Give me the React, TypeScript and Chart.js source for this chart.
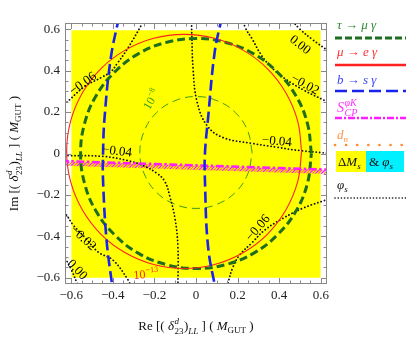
import React, { useEffect, useRef } from "react";
import { Chart, registerables } from "chart.js";

Chart.register(...registerables);

const SERIF = '"Liberation Serif", "Times New Roman", "DejaVu Serif", serif';

// ---- axes ----
const X_MIN = -0.63;
const X_MAX = 0.63;
const Y_MIN = -0.63;
const Y_MAX = 0.63;
const xTickValues = [-0.6, -0.4, -0.2, 0, 0.2, 0.4, 0.6];
const yTickValues = [-0.6, -0.4, -0.2, 0, 0.2, 0.4, 0.6];
const minorTickValues = [
  -0.6, -0.55, -0.5, -0.45, -0.4, -0.35, -0.3, -0.25, -0.2, -0.15, -0.1, -0.05, 0,
  0.05, 0.1, 0.15, 0.2, 0.25, 0.3, 0.35, 0.4, 0.45, 0.5, 0.55, 0.6,
];

// ---- ΔMs & φs allowed region (yellow) ----
const allowedTopEdge = [[-0.6, 0.595], [0.6, 0.595]];
const allowedBottom = -0.6;

// ---- τ → μ γ (thick, current bound) ----
const tauMuGamma = [
  [0.555, 0], [0.536, 0.144], [0.481, 0.278], [0.392, 0.392], [0.278, 0.481], [0.144, 0.536],
  [0, 0.555], [-0.144, 0.536], [-0.278, 0.481], [-0.392, 0.392], [-0.481, 0.278], [-0.536, 0.144],
  [-0.555, 0], [-0.536, -0.144], [-0.481, -0.278], [-0.392, -0.392], [-0.278, -0.481], [-0.144, -0.536],
  [0, -0.555], [0.144, -0.536], [0.278, -0.481], [0.392, -0.392], [0.481, -0.278], [0.536, -0.144],
  [0.555, 0],
];
// ---- τ → μ γ = 10^-8 (thin) ----
const tauMuGamma1e8 = [
  [0.27, 0.005], [0.249, 0.108], [0.191, 0.196], [0.103, 0.254], [0, 0.275], [-0.103, 0.254],
  [-0.191, 0.196], [-0.249, 0.108], [-0.27, 0.005], [-0.249, -0.098], [-0.191, -0.186],
  [-0.103, -0.244], [0, -0.265], [0.103, -0.244], [0.191, -0.186], [0.249, -0.098], [0.27, 0.005],
];
// ---- μ → e γ = 10^-13 ----
const muEGamma = [
  [0.508, 0.01], [0.489, 0.156], [0.432, 0.293], [0.343, 0.41], [0.226, 0.499], [0.089, 0.556],
  [-0.057, 0.575], [-0.203, 0.556], [-0.34, 0.499], [-0.457, 0.41], [-0.546, 0.293], [-0.603, 0.156],
  [-0.622, 0.01], [-0.603, -0.136], [-0.546, -0.273], [-0.457, -0.39], [-0.34, -0.479], [-0.203, -0.536],
  [-0.057, -0.555], [0.089, -0.536], [0.226, -0.479], [0.343, -0.39], [0.432, -0.273], [0.489, -0.136],
  [0.508, 0.01],
];
// ---- b → s γ ----
const bsGammaLeft = [
  [-0.37, 0.66], [-0.41, 0.46], [-0.44, 0.17], [-0.447, 0], [-0.447, -0.13], [-0.43, -0.42], [-0.4, -0.66],
];
const bsGammaRight = [
  [0.125, 0.66], [0.09, 0.49], [0.058, 0.17], [0.043, 0], [0.043, -0.13], [0.058, -0.45], [0.095, -0.66],
];
// ---- S_CP^{φK} ----
const sCP = [[-0.65, -0.0358], [0.65, -0.0783]];
// ---- d_n hatched band ----
const dnUpper = [[-0.65, -0.038], [0.65, -0.08]];
const dnLower = [[-0.65, -0.058], [0.65, -0.1]];
// ---- φs contours ----
const phi000UR = [[0.455, 0.65], [0.5, 0.6], [0.56, 0.55], [0.65, 0.485]];
const phi000LL = [[-0.65, -0.48], [-0.63, -0.505], [-0.6, -0.56], [-0.57, -0.63], [-0.56, -0.65]];
const phi002UR = [
  [0.228, 0.65], [0.236, 0.61], [0.27, 0.553], [0.317, 0.471], [0.37, 0.409], [0.428, 0.361],
  [0.52, 0.305], [0.62, 0.255], [0.65, 0.24],
];
const phi002LL = [
  [-0.65, -0.275], [-0.63, -0.288], [-0.59, -0.346], [-0.53, -0.41], [-0.47, -0.476], [-0.4, -0.514],
  [-0.327, -0.61], [-0.31, -0.65],
];
const phi004UR = [
  [-0.022, 0.65], [-0.02, 0.567], [-0.014, 0.409], [0.005, 0.25], [0.053, 0.135], [0.13, 0.077],
  [0.274, 0.048], [0.39, 0.03], [0.5, 0.014], [0.65, 0.0],
];
const phi004LL = [
  [-0.65, -0.009], [-0.62, -0.01], [-0.447, -0.014], [-0.33, -0.034], [-0.255, -0.058], [-0.188, -0.096],
  [-0.15, -0.135], [-0.125, -0.21], [-0.1, -0.32], [-0.087, -0.45], [-0.087, -0.65],
];
const phi006UL = [
  [-0.65, 0.23], [-0.63, 0.24], [-0.54, 0.32], [-0.45, 0.37], [-0.41, 0.394], [-0.38, 0.433],
  [-0.33, 0.505], [-0.26, 0.625], [-0.25, 0.65],
];
const phi006LR = [
  [0.65, -0.215], [0.62, -0.226], [0.514, -0.264], [0.418, -0.313], [0.33, -0.37], [0.27, -0.43],
  [0.21, -0.49], [0.178, -0.548], [0.154, -0.625], [0.15, -0.65],
];

// ---- contour labels (text, value-space anchor, rotation in degrees) ----
const contourLabels: { text: string; x: number; y: number; rot: number }[] = [
  { text: "0.00", x: 0.5, y: 0.524, rot: 38 },
  { text: "\u22120.02", x: 0.524, y: 0.332, rot: 29 },
  { text: "\u22120.04", x: 0.389, y: 0.058, rot: 5 },
  { text: "\u22120.04", x: -0.38, y: 0.01, rot: 7 },
  { text: "\u22120.06", x: -0.543, y: 0.337, rot: -36 },
  { text: "\u22120.02", x: -0.543, y: -0.409, rot: 43 },
  { text: "0.00", x: -0.572, y: -0.562, rot: 47 },
  { text: "\u22120.06", x: 0.298, y: -0.36, rot: -49 },
];

const C = {
  green: "#1f6e1f",
  greenThin: "#3f9a1a",
  red: "#ff2020",
  blue: "#1a22ee",
  magenta: "#ff1cff",
  orange: "#ff8a2a",
  black: "#111",
  yellow: "#ffff00",
  cyan: "#00f0ff",
  frame: "#888",
};

type Seg = { t?: string; it?: boolean; s?: number; dy?: number; sup?: string; sub?: string; supIt?: boolean; subIt?: boolean };
const fnt = (s: number, it?: boolean) => `${it ? "italic " : ""}${s}px ${SERIF}`;

function segW(ctx: CanvasRenderingContext2D, g: Seg, base: number) {
  if (g.sup !== undefined || g.sub !== undefined) {
    const ss = Math.round(base * 0.7);
    ctx.font = fnt(ss, g.supIt);
    const a = g.sup ? ctx.measureText(g.sup).width : 0;
    ctx.font = fnt(ss, g.subIt);
    const b = g.sub ? ctx.measureText(g.sub).width : 0;
    return Math.max(a, b) + 1;
  }
  ctx.font = fnt(g.s ?? base, g.it);
  return ctx.measureText(g.t || "").width;
}

function drawRich(ctx: CanvasRenderingContext2D, segs: Seg[], x: number, y: number, align: "left" | "center", base = 13) {
  const ws = segs.map((g) => segW(ctx, g, base));
  const total = ws.reduce((a, b) => a + b, 0);
  let cx = align === "center" ? x - total / 2 : x;
  ctx.textAlign = "left";
  ctx.textBaseline = "alphabetic";
  segs.forEach((g, i) => {
    if (g.sup !== undefined || g.sub !== undefined) {
      const ss = Math.round(base * 0.7);
      if (g.sup) {
        ctx.font = fnt(ss, g.supIt);
        ctx.fillText(g.sup, cx + 0.5, y - base * 0.45);
      }
      if (g.sub) {
        ctx.font = fnt(ss, g.subIt);
        ctx.fillText(g.sub, cx + 0.5, y + base * 0.32);
      }
    } else {
      ctx.font = fnt(g.s ?? base, g.it);
      ctx.fillText(g.t || "", cx, y + (g.dy ?? 0));
    }
    cx += ws[i];
  });
}

const axisTitle = (head: string): Seg[] => [
  { t: head + " [( " },
  { t: "\u03b4", it: true },
  { sup: "d", supIt: true, sub: "23" },
  { t: ")" },
  { t: "LL", it: true, s: 9, dy: 4 },
  { t: " ] ( " },
  { t: "M", it: true },
  { t: "GUT", s: 9, dy: 3 },
  { t: " )" },
];

const fmt = (v: number) => {
  if (Math.abs(v) < 1e-9) return "0";
  const s = Math.abs(v).toFixed(1);
  return v < 0 ? "\u2212" + s : s;
};

const pts = (a: number[][]) => a.map(([x, y]) => ({ x, y }));

export default function App() {
  const ref = useRef<HTMLCanvasElement | null>(null);

  useEffect(() => {
    const canvas = ref.current!;
    const ctx0 = canvas.getContext("2d")!;

    const pc = document.createElement("canvas");
    pc.width = 6;
    pc.height = 6;
    const pg = pc.getContext("2d")!;
    pg.lineWidth = 1.3;
    pg.strokeStyle = C.orange;
    pg.beginPath();
    pg.moveTo(-1, 7);
    pg.lineTo(7, -1);
    pg.stroke();
    pg.strokeStyle = C.magenta;
    pg.beginPath();
    pg.moveTo(-4, 7);
    pg.lineTo(4, -1);
    pg.moveTo(2, 7);
    pg.lineTo(10, -1);
    pg.stroke();
    const hatch = ctx0.createPattern(pc, "repeat");

    const line = (data: number[][], color: string, width: number, dash: number[], order: number, extra: any = {}) => ({
      data: pts(data),
      showLine: true,
      borderColor: color,
      borderWidth: width,
      borderDash: dash,
      pointRadius: 0,
      tension: 0.4,
      fill: false,
      order,
      ...extra,
    });
    const dotted = (data: number[][]) =>
      line(data, C.black, 1.8, [0.1, 3.4], 7, { borderCapStyle: "round" });

    const overlay = {
      id: "overlay",
      afterDatasetsDraw(chart: any) {
        const ctx: CanvasRenderingContext2D = chart.ctx;
        const xs = chart.scales.x;
        const ys = chart.scales.y;
        const a = chart.chartArea;
        ctx.save();
        // contour labels
        ctx.fillStyle = "#000";
        ctx.font = fnt(13);
        ctx.textAlign = "center";
        ctx.textBaseline = "middle";
        for (const l of contourLabels) {
          ctx.save();
          ctx.translate(xs.getPixelForValue(l.x), ys.getPixelForValue(l.y));
          ctx.rotate((l.rot * Math.PI) / 180);
          ctx.fillText(l.text, 0, 0);
          ctx.restore();
        }
        // curve labels
        ctx.save();
        ctx.translate(xs.getPixelForValue(-0.215), ys.getPixelForValue(0.262));
        ctx.rotate((-60 * Math.PI) / 180);
        ctx.fillStyle = C.greenThin;
        drawRich(ctx, [{ t: "10" }, { sup: "\u22128" }], 0, 4, "center", 12);
        ctx.restore();
        ctx.save();
        ctx.translate(xs.getPixelForValue(-0.24), ys.getPixelForValue(-0.577));
        ctx.rotate((-4 * Math.PI) / 180);
        ctx.fillStyle = C.red;
        drawRich(ctx, [{ t: "10" }, { sup: "\u221213" }], 0, 5, "center", 12);
        ctx.restore();

        // frame
        ctx.strokeStyle = C.frame;
        ctx.lineWidth = 1;
        ctx.strokeRect(a.left + 0.5, a.top + 0.5, a.right - a.left - 1, a.bottom - a.top - 1);
        ctx.beginPath();
        for (const v of minorTickValues) {
          const major = xTickValues.some((t) => Math.abs(t - v) < 1e-9);
          const len = major ? 6 : 3.5;
          const px = Math.round(xs.getPixelForValue(v)) + 0.5;
          ctx.moveTo(px, a.bottom);
          ctx.lineTo(px, a.bottom - len);
          ctx.moveTo(px, a.top);
          ctx.lineTo(px, a.top + len);
          const py = Math.round(ys.getPixelForValue(v)) + 0.5;
          ctx.moveTo(a.left, py);
          ctx.lineTo(a.left + len, py);
          ctx.moveTo(a.right, py);
          ctx.lineTo(a.right - len, py);
        }
        ctx.stroke();
        ctx.restore();
      },
      afterDraw(chart: any) {
        const ctx: CanvasRenderingContext2D = chart.ctx;
        const a = chart.chartArea;
        ctx.save();
        // axis titles
        ctx.fillStyle = "#111";
        drawRich(ctx, axisTitle("Re"), (a.left + a.right) / 2, 330, "center", 13);
        ctx.save();
        ctx.translate(18, (a.top + a.bottom) / 2);
        ctx.rotate(-Math.PI / 2);
        drawRich(ctx, axisTitle("Im"), 0, 0, "center", 13);
        ctx.restore();

        // legend
        const L = 337;
        const R = 406;
        const seg = (y: number, color: string, w: number, dash: number[], cap: CanvasLineCap = "butt") => {
          ctx.save();
          ctx.strokeStyle = color;
          ctx.lineWidth = w;
          ctx.setLineDash(dash);
          ctx.lineCap = cap;
          ctx.beginPath();
          ctx.moveTo(L - 2, y);
          ctx.lineTo(R, y);
          ctx.stroke();
          ctx.restore();
        };
        ctx.fillStyle = "#2f8a2f";
        drawRich(ctx, [{ t: "\u03c4 \u2192 \u03bc \u03b3", it: true }], L, 29, "left", 13);
        seg(38, C.green, 3, [7, 3]);
        ctx.fillStyle = "#ff3030";
        drawRich(ctx, [{ t: "\u03bc \u2192 e \u03b3", it: true }], L, 56, "left", 13);
        seg(65, C.red, 2.5, []);
        ctx.fillStyle = "#3a44ff";
        drawRich(ctx, [{ t: "b \u2192 s \u03b3", it: true }], L, 84, "left", 13);
        seg(91, C.blue, 2.5, [12, 5]);
        ctx.fillStyle = "#ff33ff";
        drawRich(ctx, [{ t: "S", it: true }, { sup: "\u03c6K", supIt: true, sub: "CP", subIt: true }], L, 112, "left", 14);
        seg(118, C.magenta, 2.5, [7, 2, 2, 2]);
        ctx.fillStyle = "#ff9040";
        drawRich(ctx, [{ t: "d", it: true }, { t: "n", it: true, s: 9, dy: 3 }], L, 139, "left", 13);
        seg(145, C.orange, 2.6, [0.1, 11], "round");
        ctx.fillStyle = C.yellow;
        ctx.fillRect(336, 151, 30, 21);
        ctx.fillStyle = C.cyan;
        ctx.fillRect(366, 151, 38, 21);
        ctx.fillStyle = "#111";
        drawRich(ctx, [{ t: "\u0394" }, { t: "M", it: true }, { t: "s", it: true, s: 9, dy: 3 }], 338, 166, "left", 13);
        drawRich(ctx, [{ t: "& " }, { t: "\u03c6", it: true }, { t: "s", it: true, s: 9, dy: 3 }], 369, 166, "left", 13);
        drawRich(ctx, [{ t: "\u03c6", it: true }, { t: "s", it: true, s: 9, dy: 3 }], L, 189, "left", 13);
        seg(198, C.black, 1.6, [0.1, 3.1], "round");
        ctx.restore();
      },
    };

    const chart = new Chart(canvas, {
      type: "scatter",
      data: {
        datasets: [
          line(bsGammaLeft, C.blue, 2.6, [11, 5], 3),
          line(bsGammaRight, C.blue, 2.6, [11, 5], 3),
          line(sCP, C.magenta, 2.5, [8, 2.5, 2.5, 2.5], 4, { tension: 0 }),
          line(muEGamma, C.red, 1.1, [], 5),
          line(tauMuGamma, C.green, 3, [8, 4], 6),
          dotted(phi000UR),
          dotted(phi000LL),
          dotted(phi002UR),
          dotted(phi002LL),
          dotted(phi004UR),
          dotted(phi004LL),
          dotted(phi006UL),
          dotted(phi006LR),
          line(tauMuGamma1e8, C.greenThin, 1, [8, 5], 8),
          line(dnUpper, "rgba(0,0,0,0)", 0, [], 9, { tension: 0, fill: "+1", backgroundColor: hatch }),
          line(dnLower, "rgba(0,0,0,0)", 0, [], 9, { tension: 0 }),
          line(allowedTopEdge, "rgba(0,0,0,0)", 0, [], 10, {
            tension: 0,
            fill: { value: allowedBottom },
            backgroundColor: C.yellow,
          }),
        ],
      },
      options: {
        animation: false,
        responsive: false,
        devicePixelRatio: 1,
        events: [],
        layout: { padding: { top: 23, right: 79, left: 0, bottom: 0 } },
        plugins: { legend: { display: false }, tooltip: { enabled: false } },
        scales: {
          x: {
            type: "linear",
            min: X_MIN,
            max: X_MAX,
            afterBuildTicks: (ax: any) => {
              ax.ticks = xTickValues.map((v) => ({ value: v }));
            },
            afterFit: (s: any) => {
              s.height = 59;
            },
            ticks: {
              font: { family: SERIF, size: 13 },
              color: "#222",
              padding: 4,
              maxRotation: 0,
              autoSkip: false,
              callback: (v: any) => fmt(Number(v)),
            },
            grid: { display: false, drawTicks: false },
            border: { display: false },
          },
          y: {
            type: "linear",
            min: Y_MIN,
            max: Y_MAX,
            afterBuildTicks: (ax: any) => {
              ax.ticks = yTickValues.map((v) => ({ value: v }));
            },
            afterFit: (s: any) => {
              s.width = 65;
            },
            ticks: {
              font: { family: SERIF, size: 13 },
              color: "#222",
              padding: 5,
              autoSkip: false,
              callback: (v: any) => fmt(Number(v)),
            },
            grid: { display: false, drawTicks: false },
            border: { display: false },
          },
        },
      } as any,
      plugins: [overlay],
    });
    return () => chart.destroy();
  }, []);

  return (
    <div style={{ position: "absolute", left: 0, top: 0, width: 406, height: 343, background: "#fff" }}>
      <canvas ref={ref} width={406} height={343} style={{ display: "block" }} />
    </div>
  );
}
